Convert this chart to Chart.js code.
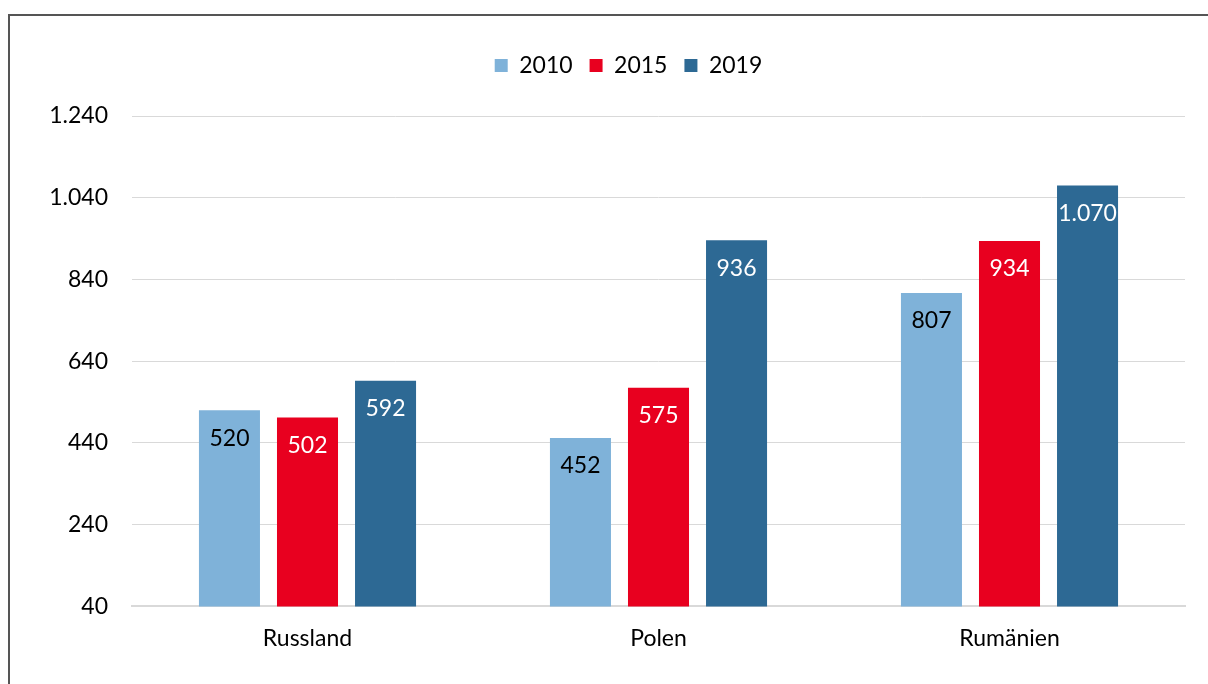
<!DOCTYPE html>
<html>
<head>
<meta charset="utf-8">
<script src="https://cdn.jsdelivr.net/npm/chart.js@4.4.1/dist/chart.umd.min.js"></script>
<style>
  html, body { margin: 0; padding: 0; background: #fff; overflow: hidden; }
  #frame { position: absolute; left: 8px; top: 14px; width: 1400px; height: 900px; border: 2px solid #555; box-sizing: border-box; }
  #wrap { position: absolute; left: 0; top: 0; width: 1208px; height: 684px; }
</style>
</head>
<body>
<div id="frame"></div>
<div id="wrap"><canvas id="chart"></canvas></div>
<script>
// values
const countries = ['Russland', 'Polen', 'Rumänien'];
const years = ['2010', '2015', '2019'];
const values2010 = [520, 452, 807];
const values2015 = [502, 575, 934];
const values2019 = [592, 936, 1070];
const yTicks = [40, 240, 440, 640, 840, 1040, 1240];

const colors = ['#7fb2d9', '#e8001f', '#2d6994'];
const labelColors = ['#000000', '#ffffff', '#ffffff'];

const fmt = (v) => String(v).replace(/\B(?=(\d{3})+(?!\d))/g, '.');

// draws the value just below the top of each bar
const valueLabels = {
  id: 'valueLabels',
  afterDatasetsDraw(chart) {
    const ctx = chart.ctx;
    ctx.save();
    ctx.font = '23px Lato';
    ctx.textAlign = 'center';
    ctx.textBaseline = 'middle';
    chart.data.datasets.forEach((ds, i) => {
      chart.getDatasetMeta(i).data.forEach((bar, j) => {
        ctx.fillStyle = labelColors[i];
        ctx.fillText(fmt(ds.data[j]), bar.x, bar.y + 28);
      });
    });
    ctx.restore();
  }
};

// legend in the original sits right of centre and higher above the plot
const shiftLegend = {
  id: 'shiftLegend',
  afterLayout(chart) {
    const l = chart.legend;
    l.left += 36;
    l.right += 36;
    l.top -= 29;
    l.bottom -= 29;
  }
};

const series = [values2010, values2015, values2019];

new Chart(document.getElementById('chart'), {
  type: 'bar',
  data: {
    labels: countries,
    datasets: years.map((y, i) => ({
      label: y,
      data: series[i],
      backgroundColor: colors[i],
      categoryPercentage: 0.667,
      barPercentage: 0.782
    }))
  },
  options: {
    responsive: true,
    maintainAspectRatio: false,
    animation: false,
    layout: { padding: { top: 66, right: 23, bottom: 14, left: 0 } },
    plugins: {
      legend: {
        position: 'top',
        labels: {
          font: { family: 'Lato', size: 23 },
          color: '#000',
          boxWidth: 13,
          boxHeight: 13,
          padding: 17
        }
      },
      tooltip: { enabled: false }
    },
    scales: {
      x: {
        grid: { display: false, drawTicks: false },
        border: { color: '#d9d9d9', width: 2 },
        ticks: { font: { family: 'Lato', size: 23 }, color: '#000', padding: 18 }
      },
      y: {
        min: 40,
        max: 1240,
        afterBuildTicks: (scale) => { scale.ticks = yTicks.map(v => ({ value: v })); },
        afterFit: (scale) => { scale.width = 132; },
        grid: { color: '#d9d9d9', lineWidth: 1, drawTicks: false },
        border: { display: false },
        ticks: {
          font: { family: 'Lato', size: 23 },
          color: '#000',
          padding: 24,
          callback: (v) => fmt(v)
        }
      }
    }
  },
  plugins: [valueLabels, shiftLegend]
});
</script>
</body>
</html>
